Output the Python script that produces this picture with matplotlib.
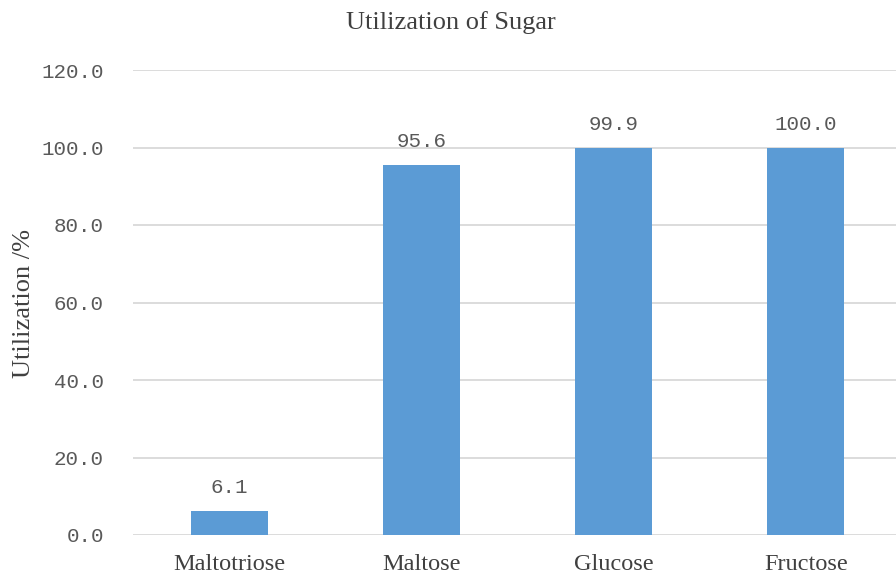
import matplotlib

matplotlib.use("Agg")
import matplotlib.pyplot as plt
from matplotlib.ticker import FuncFormatter

# data
sugars = ["Maltotriose", "Maltose", "Glucose", "Fructose"]
utilization = [6.1, 95.6, 99.9, 100.0]
yticks = [0, 20, 40, 60, 80, 100, 120]

BAR = "#5B9BD5"
GRID = "#D9D9D9"
TXT = "#595959"
SERIF = "Liberation Serif"
MONO = "Liberation Mono"

fig = plt.figure(figsize=(8.96, 5.75), dpi=100)
ax = fig.add_axes([133 / 896, 40 / 575, (902 - 133) / 896, 465 / 575])

x = range(len(sugars))
ax.bar(x, utilization, width=0.4, color=BAR, zorder=3)

for xi, v in zip(x, utilization):
    ax.annotate(f"{v:.1f}", (xi, v), xytext=(0, 10), textcoords="offset points",
                ha="center", va="bottom", fontsize=15, family=MONO, color=TXT)

ax.set_xlim(-0.5, len(sugars) - 0.5)
ax.set_ylim(0, 120)
ax.set_yticks(yticks)
ax.yaxis.set_major_formatter(FuncFormatter(lambda v, _: f"{v:.1f}"))
ax.grid(True, axis="y", color=GRID, linewidth=1.3, zorder=0)
for s in ["top", "right", "left", "bottom"]:
    ax.spines[s].set_visible(False)
ax.tick_params(length=0)
ax.tick_params(axis="y", pad=21, labelsize=15, labelcolor=TXT)
ax.tick_params(axis="x", pad=14, labelsize=17.5, labelcolor="#404040")
for lab in ax.get_yticklabels():
    lab.set_family(MONO)
ax.set_xticks(list(x), sugars, family=SERIF)

ax.set_ylabel("Utilization /%", family=SERIF, fontsize=19, color="#404040")
ax.yaxis.set_label_coords((35 - 133) / 769, 0.497)
fig.text(451 / 896, 1 - 23 / 575, "Utilization of Sugar", family=SERIF,
         fontsize=19, color="#404040", ha="center", va="center")

fig.savefig("out.png", dpi=100)
